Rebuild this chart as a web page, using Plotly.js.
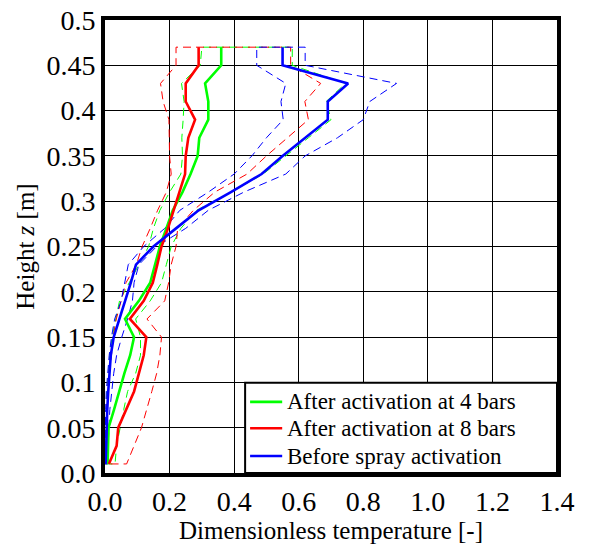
<!DOCTYPE html>
<html>
<head>
<meta charset="utf-8">
<script src="https://cdn.plot.ly/plotly-3.0.1.min.js"></script>
<style>html,body{margin:0;padding:0;background:#fff;}#chart{position:relative;z-index:1;width:592px;height:545px;}
#chart text{font-family:'Times New Roman','Liberation Serif','DejaVu Serif','Noto Serif',serif !important;}
.prime{position:absolute;left:0;top:0;z-index:0;font-size:20px;color:#fff;}</style>
</head>
<body>
<div class="prime" style="font-family:'Liberation Serif'">&nbsp;</div>
<div class="prime" style="font-family:'Times New Roman'">&nbsp;</div>
<div class="prime" style="font-family:serif">&nbsp;</div>
<div id="chart"></div>
<script>
// Heights (m), bottom to top
const heights = [0.01,0.03,0.05,0.07,0.09,0.11,0.13,0.15,0.17,0.19,0.21,0.23,0.25,0.27,0.29,0.31,0.33,0.35,0.37,0.39,0.41,0.43,0.45,0.47];

// Before spray activation (blue)
const beforeMean = [0.002,0.003,0.005,0.007,0.010,0.013,0.018,0.027,0.045,0.062,0.080,0.096,0.150,0.220,0.290,0.390,0.485,0.550,0.620,0.690,0.690,0.753,0.550,0.550];
const beforeMin  = [0.000,0.000,0.001,0.002,0.004,0.008,0.013,0.020,0.030,0.050,0.060,0.072,0.120,0.185,0.232,0.320,0.400,0.455,0.500,0.552,0.545,0.560,0.470,0.470];
const beforeMax  = [0.008,0.010,0.012,0.015,0.020,0.027,0.036,0.052,0.070,0.085,0.090,0.105,0.160,0.250,0.320,0.430,0.560,0.620,0.720,0.800,0.820,0.903,0.620,0.620];

// After activation at 4 bars (green)
const bar4Mean = [0.008,0.009,0.011,0.028,0.043,0.060,0.078,0.090,0.062,0.105,0.140,0.155,0.170,0.190,0.210,0.240,0.265,0.287,0.292,0.320,0.320,0.310,0.360,0.360];
const bar4Min  = [0.002,0.002,0.003,0.004,0.006,0.010,0.015,0.022,0.033,0.045,0.075,0.105,0.135,0.150,0.170,0.200,0.235,0.240,0.238,0.242,0.245,0.237,0.295,0.300];
const bar4Max  = [0.031,0.036,0.047,0.058,0.070,0.095,0.110,0.110,0.095,0.140,0.175,0.190,0.205,0.235,0.284,0.390,0.490,0.560,0.630,0.700,0.685,0.745,0.580,0.580];

// After activation at 8 bars (red)
const bar8Mean = [0.012,0.036,0.041,0.065,0.090,0.105,0.120,0.128,0.077,0.120,0.148,0.162,0.175,0.195,0.213,0.232,0.248,0.250,0.258,0.279,0.250,0.250,0.290,0.290];
const bar8Min  = [0.000,0.001,0.003,0.005,0.008,0.012,0.020,0.025,0.035,0.050,0.065,0.097,0.115,0.140,0.163,0.190,0.205,0.200,0.200,0.198,0.180,0.172,0.220,0.220];
const bar8Max  = [0.067,0.090,0.113,0.130,0.145,0.160,0.170,0.175,0.130,0.185,0.197,0.205,0.220,0.225,0.274,0.340,0.440,0.500,0.565,0.630,0.619,0.668,0.575,0.575];

const legendLabels = ['After activation at 4 bars','After activation at 8 bars','Before spray activation'];
const colors = ['#00ff00','#ff0000','#0000ff'];

const xTicks = [0,0.2,0.4,0.6,0.8,1.0,1.2,1.4];
const yTicks = [0,0.05,0.1,0.15,0.2,0.25,0.3,0.35,0.4,0.45,0.5];
const yTickText = ['0.0','0.05','0.1','0.15','0.2','0.25','0.3','0.35','0.4','0.45','0.5'];

function envelope(minArr, maxArr, color) {
  const x = minArr.concat(maxArr.slice().reverse(), [minArr[0]]);
  const y = heights.concat(heights.slice().reverse(), [heights[0]]);
  return {x: x, y: y, mode: 'lines', type: 'scatter', showlegend: false, hoverinfo: 'skip',
          line: {color: color, width: 1, dash: '8px,5px'}};
}
function meanLine(arr, color, name) {
  return {x: arr, y: heights, mode: 'lines', type: 'scatter', name: name, showlegend: false,
          line: {color: color, width: 2.6}};
}

const traces = [
  envelope(bar4Min, bar4Max, colors[0]),
  envelope(bar8Min, bar8Max, colors[1]),
  envelope(beforeMin, beforeMax, colors[2]),
  meanLine(bar4Mean, colors[0], legendLabels[0]),
  meanLine(bar8Mean, colors[1], legendLabels[1]),
  meanLine(beforeMean, colors[2], legendLabels[2])
];

// custom legend (paper coordinates)
const legRows = [0.157, 0.0987, 0.0375];
const shapes = [{type:'rect', xref:'paper', yref:'paper', x0:0.31, x1:1, y0:0, y1:0.199,
                 fillcolor:'#ffffff', line:{color:'#000', width:2}, layer:'above'}];
const annotations = [];
legendLabels.forEach((lab, i) => {
  shapes.push({type:'line', xref:'paper', yref:'paper', x0:0.321, x1:0.392, y0:legRows[i], y1:legRows[i],
               line:{color:colors[i], width:2.6}, layer:'above'});
  annotations.push({xref:'paper', yref:'paper', x:0.398, y:legRows[i], xanchor:'left', yanchor:'middle',
                    text:lab, showarrow:false, font:{size:23}});
});

const layout = {
  width: 592, height: 545,
  margin: {l: 105, r: 35, t: 20, b: 72},
  paper_bgcolor: '#fff', plot_bgcolor: '#fff',
  showlegend: false,
  font: {family: 'Times New Roman, Liberation Serif, DejaVu Serif, serif', size: 27, color: '#000'},
  xaxis: {range: [0, 1.4], tickvals: xTicks, tickformat: '.1f', ticks: '', showgrid: true,
          gridcolor: '#000', gridwidth: 1, zeroline: false, showline: true, mirror: true,
          linecolor: '#000', linewidth: 4, tickfont: {size: 28},
          title: {text: 'Dimensionless temperature [-]', font: {size: 25}, standoff: 2}},
  yaxis: {range: [0, 0.5], tickvals: yTicks, ticktext: yTickText, ticks: '', showgrid: true,
          gridcolor: '#000', gridwidth: 1, zeroline: false, showline: true, mirror: true,
          linecolor: '#000', linewidth: 4, tickfont: {size: 28},
          title: {text: 'Height <i>z</i> [m]', font: {size: 25}, standoff: 6}},
  shapes: shapes,
  annotations: annotations
};

Plotly.newPlot('chart', traces, layout, {staticPlot: true});
</script>
</body>
</html>
